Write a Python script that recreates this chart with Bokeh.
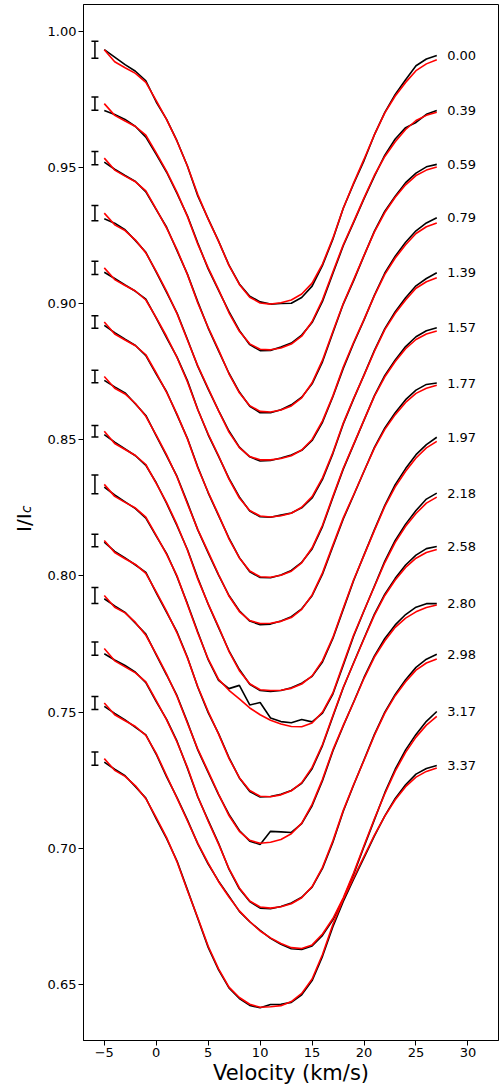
from math import pi
from bokeh.plotting import figure
from bokeh.layouts import row
from bokeh.models import (Range1d, FixedTicker, NumeralTickFormatter, CustomJSTickFormatter,
                          Label, Whisker, TeeHead, ColumnDataSource)
from bokeh.core.properties import value
from bokeh.embed import file_html
from bokeh.resources import INLINE

# ---------------- data ----------------
velocity = [-5, -4, -3, -2, -1, 0, 1, 2, 3, 4, 5, 6, 7, 8, 9, 10, 11, 12, 13, 14, 15,
            16, 17, 18, 19, 20, 21, 22, 23, 24, 25, 26, 27]

phases = ["0.00", "0.39", "0.59", "0.79", "1.39", "1.57", "1.77", "1.97",
          "2.18", "2.58", "2.80", "2.98", "3.17", "3.37"]

obs_000 = [0.9932,0.9905,0.9877,0.9853,0.9818,0.9740,0.9676,0.9597,0.9505,0.9395,0.9311,0.9229,0.9141,0.9072,0.9027,0.9006,0.8998,0.9000,0.9001,0.9022,0.9064,0.9140,0.9236,0.9350,0.9440,0.9525,0.9620,0.9702,0.9768,0.9822,0.9873,0.9898,0.9911]
mod_000 = [0.9932,0.9888,0.9866,0.9845,0.9812,0.9745,0.9675,0.9596,0.9505,0.9400,0.9310,0.9228,0.9140,0.9070,0.9023,0.9002,0.8998,0.9003,0.9013,0.9035,0.9075,0.9145,0.9240,0.9350,0.9443,0.9530,0.9620,0.9700,0.9762,0.9812,0.9855,0.9880,0.9895]

obs_039 = [0.9709,0.9694,0.9676,0.9650,0.9611,0.9548,0.9482,0.9404,0.9322,0.9222,0.9127,0.9048,0.8970,0.8901,0.8849,0.8827,0.8828,0.8840,0.8855,0.8884,0.8930,0.9008,0.9110,0.9212,0.9298,0.9385,0.9468,0.9545,0.9604,0.9646,0.9665,0.9695,0.9709]
mod_039 = [0.9734,0.9691,0.9670,0.9650,0.9618,0.9553,0.9485,0.9408,0.9320,0.9218,0.9131,0.9051,0.8966,0.8898,0.8852,0.8832,0.8830,0.8837,0.8851,0.8880,0.8934,0.9014,0.9116,0.9216,0.9301,0.9388,0.9471,0.9540,0.9594,0.9639,0.9672,0.9691,0.9702]

obs_059 = [0.9519,0.9493,0.9470,0.9448,0.9410,0.9345,0.9280,0.9194,0.9108,0.9006,0.8910,0.8826,0.8744,0.8675,0.8623,0.8599,0.8599,0.8610,0.8628,0.8656,0.8705,0.8786,0.8893,0.8998,0.9084,0.9176,0.9266,0.9339,0.9394,0.9444,0.9479,0.9502,0.9511]
mod_059 = [0.9534,0.9490,0.9468,0.9447,0.9414,0.9347,0.9277,0.9198,0.9107,0.9002,0.8912,0.8830,0.8742,0.8672,0.8625,0.8604,0.8602,0.8609,0.8624,0.8654,0.8709,0.8792,0.8897,0.9000,0.9088,0.9177,0.9263,0.9334,0.9390,0.9436,0.9470,0.9490,0.9501]

obs_079 = [0.9311,0.9295,0.9271,0.9231,0.9188,0.9115,0.9041,0.8965,0.8869,0.8769,0.8686,0.8607,0.8532,0.8473,0.8437,0.8422,0.8424,0.8433,0.8444,0.8461,0.8497,0.8564,0.8658,0.8762,0.8854,0.8940,0.9031,0.9112,0.9174,0.9225,0.9267,0.9296,0.9315]
mod_079 = [0.9332,0.9289,0.9268,0.9233,0.9186,0.9118,0.9045,0.8963,0.8866,0.8771,0.8689,0.8606,0.8528,0.8471,0.8438,0.8426,0.8426,0.8431,0.8441,0.8462,0.8501,0.8569,0.8661,0.8767,0.8858,0.8942,0.9029,0.9107,0.9167,0.9216,0.9257,0.9282,0.9296]

obs_139 = [0.9115,0.9092,0.9068,0.9045,0.9016,0.8946,0.8874,0.8803,0.8717,0.8611,0.8518,0.8439,0.8358,0.8290,0.8238,0.8217,0.8215,0.8223,0.8231,0.8250,0.8286,0.8354,0.8449,0.8558,0.8650,0.8738,0.8828,0.8908,0.8970,0.9021,0.9065,0.9092,0.9113]
mod_139 = [0.9131,0.9088,0.9066,0.9046,0.9013,0.8948,0.8879,0.8802,0.8713,0.8610,0.8521,0.8441,0.8355,0.8286,0.8240,0.8220,0.8216,0.8221,0.8230,0.8252,0.8291,0.8360,0.8453,0.8561,0.8652,0.8737,0.8825,0.8904,0.8964,0.9013,0.9056,0.9080,0.9095]

obs_157 = [0.8920,0.8893,0.8869,0.8846,0.8809,0.8741,0.8676,0.8591,0.8505,0.8400,0.8305,0.8221,0.8139,0.8067,0.8015,0.7994,0.7993,0.8003,0.8020,0.8050,0.8099,0.8181,0.8288,0.8392,0.8482,0.8572,0.8662,0.8736,0.8793,0.8842,0.8878,0.8900,0.8911]
mod_157 = [0.8932,0.8888,0.8866,0.8845,0.8812,0.8745,0.8674,0.8594,0.8503,0.8397,0.8307,0.8224,0.8136,0.8066,0.8018,0.7997,0.7995,0.8002,0.8017,0.8048,0.8103,0.8186,0.8292,0.8395,0.8484,0.8573,0.8660,0.8731,0.8787,0.8834,0.8868,0.8888,0.8899]

obs_177 = [0.8718,0.8694,0.8672,0.8631,0.8589,0.8514,0.8441,0.8365,0.8269,0.8169,0.8084,0.8003,0.7928,0.7872,0.7834,0.7821,0.7823,0.7834,0.7850,0.7879,0.7927,0.8006,0.8108,0.8209,0.8296,0.8384,0.8472,0.8543,0.8599,0.8647,0.8682,0.8703,0.8708]
mod_177 = [0.8732,0.8689,0.8668,0.8633,0.8586,0.8517,0.8444,0.8363,0.8265,0.8170,0.8088,0.8005,0.7926,0.7869,0.7836,0.7825,0.7826,0.7833,0.7847,0.7877,0.7930,0.8011,0.8113,0.8213,0.8298,0.8385,0.8469,0.8538,0.8592,0.8637,0.8670,0.8689,0.8700]

obs_197 = [0.8519,0.8491,0.8466,0.8441,0.8406,0.8342,0.8266,0.8184,0.8097,0.7992,0.7896,0.7810,0.7725,0.7656,0.7602,0.7579,0.7576,0.7579,0.7589,0.7606,0.7631,0.7684,0.7770,0.7877,0.7983,0.8077,0.8170,0.8259,0.8335,0.8394,0.8445,0.8482,0.8509]
mod_197 = [0.8531,0.8486,0.8464,0.8442,0.8409,0.8340,0.8269,0.8188,0.8095,0.7988,0.7897,0.7813,0.7723,0.7652,0.7604,0.7582,0.7579,0.7580,0.7587,0.7603,0.7633,0.7689,0.7774,0.7881,0.7986,0.8076,0.8167,0.8255,0.8327,0.8384,0.8433,0.8470,0.8494]

obs_218 = [0.8326,0.8297,0.8272,0.8247,0.8212,0.8146,0.8082,0.7997,0.7898,0.7794,0.7692,0.7616,0.7586,0.7598,0.7526,0.7535,0.7478,0.7465,0.7461,0.7473,0.7464,0.7496,0.7566,0.7672,0.7779,0.7872,0.7963,0.8054,0.8130,0.8190,0.8240,0.8282,0.8304]
mod_218 = [0.8336,0.8292,0.8270,0.8249,0.8216,0.8149,0.8079,0.8000,0.7895,0.7790,0.7695,0.7620,0.7580,0.7548,0.7515,0.7490,0.7470,0.7456,0.7447,0.7446,0.7460,0.7500,0.7570,0.7677,0.7783,0.7873,0.7961,0.8049,0.8123,0.8182,0.8229,0.8267,0.8289]

obs_258 = [0.8124,0.8090,0.8066,0.8040,0.8013,0.7938,0.7866,0.7794,0.7701,0.7591,0.7498,0.7421,0.7333,0.7258,0.7208,0.7188,0.7190,0.7198,0.7212,0.7238,0.7292,0.7377,0.7484,0.7589,0.7681,0.7771,0.7860,0.7933,0.7991,0.8040,0.8076,0.8100,0.8108]
mod_258 = [0.8130,0.8086,0.8063,0.8042,0.8009,0.7941,0.7870,0.7791,0.7699,0.7593,0.7502,0.7419,0.7330,0.7259,0.7212,0.7191,0.7189,0.7196,0.7211,0.7241,0.7297,0.7381,0.7487,0.7591,0.7680,0.7769,0.7856,0.7928,0.7985,0.8031,0.8065,0.8086,0.8097]

obs_280 = [0.7916,0.7890,0.7866,0.7826,0.7786,0.7710,0.7636,0.7560,0.7463,0.7361,0.7278,0.7197,0.7124,0.7065,0.7026,0.7014,0.7062,0.7060,0.7058,0.7090,0.7156,0.7248,0.7357,0.7449,0.7537,0.7627,0.7706,0.7770,0.7820,0.7858,0.7885,0.7898,0.7898]
mod_280 = [0.7928,0.7885,0.7864,0.7829,0.7782,0.7713,0.7639,0.7557,0.7460,0.7364,0.7282,0.7199,0.7120,0.7062,0.7029,0.7018,0.7022,0.7032,0.7053,0.7092,0.7161,0.7253,0.7361,0.7451,0.7536,0.7624,0.7702,0.7762,0.7811,0.7845,0.7868,0.7884,0.7893]

obs_298 = [0.7714,0.7691,0.7671,0.7646,0.7608,0.7538,0.7473,0.7393,0.7294,0.7188,0.7102,0.7018,0.6923,0.6851,0.6804,0.6780,0.6778,0.6786,0.6799,0.6820,0.6857,0.6926,0.7022,0.7136,0.7232,0.7325,0.7418,0.7500,0.7565,0.7619,0.7664,0.7694,0.7712]
mod_298 = [0.7733,0.7688,0.7666,0.7644,0.7611,0.7542,0.7471,0.7390,0.7297,0.7190,0.7099,0.7015,0.6925,0.6854,0.6806,0.6784,0.6780,0.6785,0.6796,0.6818,0.6859,0.6930,0.7027,0.7139,0.7234,0.7323,0.7415,0.7496,0.7560,0.7611,0.7654,0.7680,0.7695]

obs_317 = [0.7521,0.7495,0.7471,0.7444,0.7416,0.7345,0.7262,0.7186,0.7104,0.7016,0.6942,0.6879,0.6824,0.6768,0.6730,0.6698,0.6669,0.6647,0.6631,0.6628,0.6641,0.6680,0.6737,0.6813,0.6905,0.7006,0.7105,0.7204,0.7290,0.7361,0.7418,0.7466,0.7502]
mod_317 = [0.7533,0.7490,0.7468,0.7447,0.7414,0.7348,0.7266,0.7184,0.7101,0.7018,0.6945,0.6877,0.6821,0.6770,0.6731,0.6696,0.6671,0.6650,0.6635,0.6632,0.6645,0.6685,0.6742,0.6818,0.6910,0.7010,0.7108,0.7200,0.7283,0.7352,0.7408,0.7452,0.7484]

obs_337 = [0.7316,0.7290,0.7266,0.7226,0.7184,0.7108,0.7035,0.6953,0.6848,0.6742,0.6636,0.6553,0.6487,0.6448,0.6423,0.6414,0.6426,0.6427,0.6434,0.6462,0.6514,0.6603,0.6712,0.6805,0.6886,0.6965,0.7045,0.7119,0.7183,0.7233,0.7272,0.7293,0.7304]
mod_337 = [0.7329,0.7286,0.7264,0.7229,0.7182,0.7112,0.7039,0.6950,0.6845,0.6745,0.6640,0.6557,0.6490,0.6452,0.6427,0.6416,0.6418,0.6422,0.6437,0.6467,0.6520,0.6610,0.6720,0.6812,0.6892,0.6970,0.7048,0.7118,0.7178,0.7226,0.7261,0.7282,0.7295]

# half-size of the error bar drawn at the left of each profile
error_half = [0.0031, 0.0024, 0.0024, 0.0028, 0.0024, 0.0023, 0.0023,
              0.0021, 0.0034, 0.0023, 0.0029, 0.0024, 0.0024, 0.0024]

x_ticks = [-5, 0, 5, 10, 15, 20, 25, 30]
y_ticks = [0.65, 0.70, 0.75, 0.80, 0.85, 0.90, 0.95, 1.00]

observed = [obs_000, obs_039, obs_059, obs_079, obs_139, obs_157, obs_177,
            obs_197, obs_218, obs_258, obs_280, obs_298, obs_317, obs_337]
model = [mod_000, mod_039, mod_059, mod_079, mod_139, mod_157, mod_177,
         mod_197, mod_218, mod_258, mod_280, mod_298, mod_317, mod_337]

FONT = "DejaVu Sans"
H = 1090
LW = 44   # width of the y-title panel

# ---------------- y-axis title panel (I/I with subscript c) ----------------
lab = figure(width=LW, height=H, output_backend="svg", toolbar_location=None,
             x_range=Range1d(0, LW), y_range=Range1d(0, H),
             x_axis_type=None, y_axis_type=None, min_border=0)
lab.outline_line_color = None
lab.background_fill_color = "white"
lab.border_fill_color = "white"
lab.text(x=[23.7], y=[H - 555], text=["I/I"], angle=pi / 2,
         text_font=value(FONT), text_font_size="20px", text_color="black",
         text_align="left", text_baseline="alphabetic")
lab.text(x=[25.6], y=[H - 535], text=["c"], angle=pi / 2,
         text_font=value(FONT), text_font_size="13.5px", text_color="black",
         text_font_style="italic", text_align="left", text_baseline="alphabetic")

# ---------------- main figure ----------------
p = figure(width=499 - LW, height=H, output_backend="svg", toolbar_location=None,
           x_range=Range1d(-7.0, 32.94), y_range=Range1d(0.6294, 1.0098),
           min_border_left=82 - LW, min_border_right=1, min_border_top=4, min_border_bottom=50)

p.background_fill_color = "white"
p.border_fill_color = "white"
p.outline_line_color = "black"
p.outline_line_width = 1
p.xgrid.visible = False
p.ygrid.visible = False

for ax in (p.xaxis[0], p.yaxis[0]):
    ax.axis_line_color = "black"
    ax.major_tick_line_color = "black"
    ax.major_tick_out = 5
    ax.major_tick_in = 0
    ax.minor_tick_out = 0
    ax.minor_tick_in = 0
    ax.major_label_text_font = FONT
    ax.major_label_text_font_size = "13px"
    ax.major_label_text_color = "black"
    ax.major_label_standoff = 2

p.xaxis.ticker = FixedTicker(ticks=x_ticks)
p.yaxis.ticker = FixedTicker(ticks=y_ticks)
p.yaxis.formatter = NumeralTickFormatter(format="0.00")
p.xaxis.formatter = CustomJSTickFormatter(
    code="return tick < 0 ? '\u2212' + Math.abs(tick) : tick.toString();")

p.xaxis.axis_label = "Velocity (km/s)"
p.xaxis.axis_label_text_font = FONT
p.xaxis.axis_label_text_font_size = "21px"
p.xaxis.axis_label_text_font_style = "normal"
p.xaxis.axis_label_text_color = "black"
p.xaxis.axis_label_standoff = 1

# profiles: observed (black) then model (red)
for obs, mod in zip(observed, model):
    p.line(velocity, obs, line_color="black", line_width=1.6)
    p.line(velocity, mod, line_color="red", line_width=1.6)

# phase labels at the right end of each profile
for ph, obs in zip(phases, observed):
    p.add_layout(Label(x=velocity[-1] + 1.0, y=obs[-1], text=ph,
                       text_font=FONT, text_font_size="13px", text_color="black",
                       text_baseline="middle", text_align="left"))

# error bars at the left of each profile
err_x = [velocity[0] - 0.9] * len(model)
centers = [m[0] for m in model]
src = ColumnDataSource(dict(x=err_x,
                            upper=[c + h for c, h in zip(centers, error_half)],
                            lower=[c - h for c, h in zip(centers, error_half)]))
p.add_layout(Whisker(source=src, base="x", upper="upper", lower="lower",
                     dimension="height", line_color="black", line_width=1.5,
                     upper_head=TeeHead(size=7, line_color="black", line_width=1.5),
                     lower_head=TeeHead(size=7, line_color="black", line_width=1.5)))

layout = row(lab, p, spacing=0)
open("out.html", "w").write(file_html(layout, INLINE))
